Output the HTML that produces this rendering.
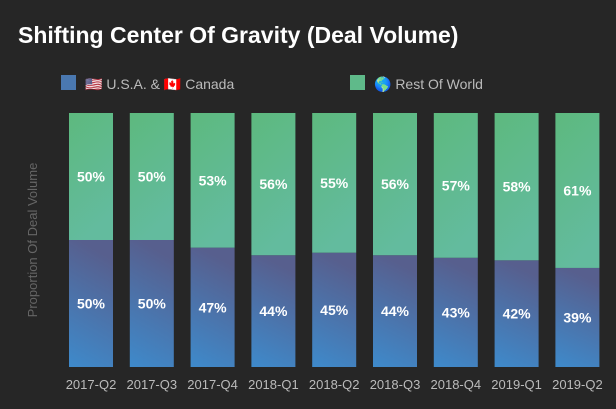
<!DOCTYPE html>
<html><head><meta charset="utf-8"><style>
body{margin:0;background:#262626;}
svg{display:block;font-family:"Liberation Sans",sans-serif;}
</style></head><body>
<svg width="616" height="409" viewBox="0 0 616 409">
<defs>
<linearGradient id="gG" x1="0" y1="0" x2="0.3" y2="1"><stop offset="0" stop-color="#5db97e"/><stop offset="1" stop-color="#63bb9e"/></linearGradient>
<linearGradient id="gB" x1="0.2" y1="0" x2="0" y2="1"><stop offset="0" stop-color="#575f8e"/><stop offset="1" stop-color="#3e8acb"/></linearGradient>
</defs>
<rect width="616" height="409" fill="#262626"/>
<text x="18" y="43" fill="#fff" font-size="23" font-weight="bold">Shifting Center Of Gravity (Deal Volume)</text>
<g>
<rect x="61" y="75" width="15" height="15" fill="#4a78b0"/>
<text x="85" y="89" fill="#bbb" font-size="14">🇺🇸 U.S.A. &amp; 🇨🇦 Canada</text>
</g>
<g>
<rect x="350" y="75" width="15" height="15" fill="#5fba8a"/>
<text x="374" y="89" fill="#bbb" font-size="14">🌎 Rest Of World</text>
</g>
<text transform="translate(37,240) rotate(-90)" text-anchor="middle" fill="#666" font-size="13">Proportion Of Deal Volume</text>
<g id="bars"></g>
</svg>
<script>
const categories=["2017-Q2","2017-Q3","2017-Q4","2018-Q1","2018-Q2","2018-Q3","2018-Q4","2019-Q1","2019-Q2"];
const usaValues=[50,50,47,44,45,44,43,42,39];
const rowValues=[50,50,53,56,55,56,57,58,61];
const NS="http://www.w3.org/2000/svg";
const g=document.getElementById('bars');
const top0=113,bottom=367,left0=69,step=60.8,bw=44;
function y(v){return bottom-(v/100)*(bottom-top0);}
function x(i){return left0+i*step;}
function mk(t,a){const e=document.createElementNS(NS,t);for(const k in a)e.setAttribute(k,a[k]);g.appendChild(e);return e;}
categories.forEach((c,i)=>{
  const tot=usaValues[i]+rowValues[i];
  const u=usaValues[i]/tot*100;
  const yb=y(u), yt=y(100);
  const b=mk('rect',{x:x(i),y:yb,width:bw,height:bottom-yb,fill:'url(#gB)'});
  
  
  const r=mk('rect',{x:x(i),y:yt,width:bw,height:yb-yt,fill:'url(#gG)'});
  
  
  const t1=mk('text',{x:x(i)+bw/2,y:(yb+bottom)/2+5,'text-anchor':'middle',fill:'#fff','font-size':'14','font-weight':'bold'});
  t1.textContent=usaValues[i]+'%';
  
  
  const t2=mk('text',{x:x(i)+bw/2,y:(yt+yb)/2+5,'text-anchor':'middle',fill:'#fff','font-size':'14','font-weight':'bold'});
  t2.textContent=rowValues[i]+'%';
  
  
  const xl=mk('text',{x:x(i)+bw/2,y:389,'text-anchor':'middle',fill:'#bbb','font-size':'13'});
  xl.textContent=c;
  
  
});
</script>
</body></html>
